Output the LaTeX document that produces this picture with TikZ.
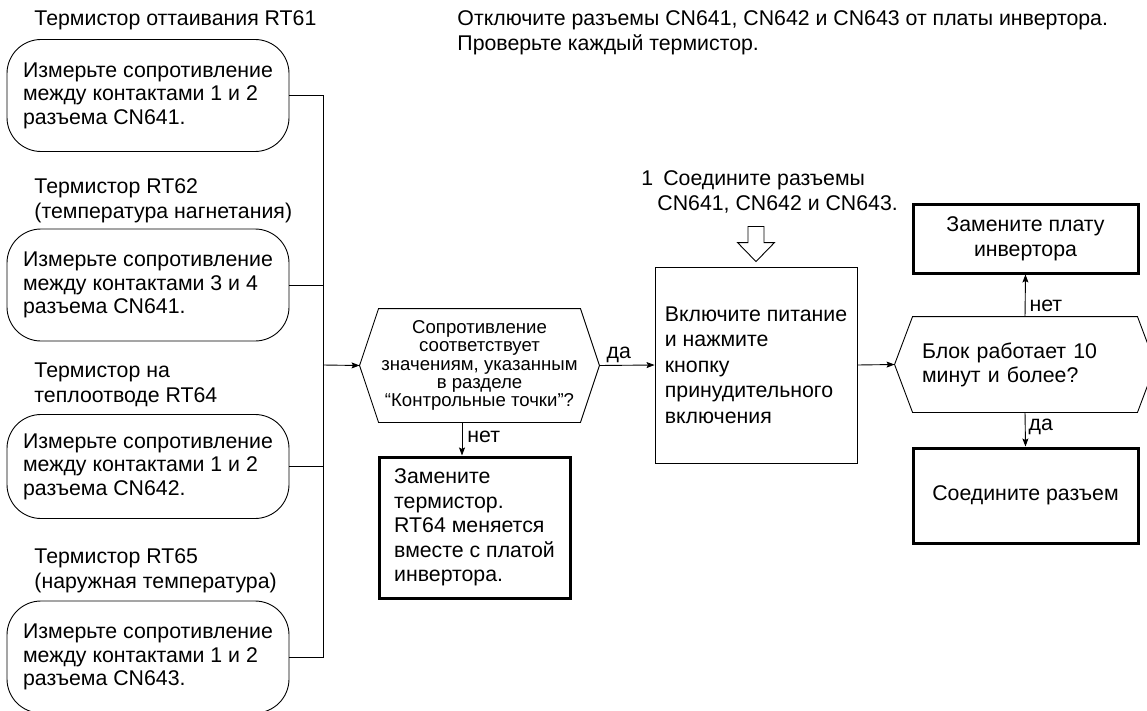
\documentclass[tikz,border=0pt]{standalone}
\usepackage{fontspec}
\setmainfont{Liberation Sans}
\usetikzlibrary{positioning,arrows.meta,calc}

\begin{document}
\begin{tikzpicture}[x=1pt, y=-1pt, line width=0.9pt, font=\fontsize{21.3}{24}\selectfont,
  rb/.style={draw, rounded corners=34pt, minimum width=282pt, minimum height=112pt, align=left, font=\fontsize{21.3}{23.5}\selectfont},
  tb/.style={draw, line width=3pt, align=center, font=\fontsize{21.3}{24.5}\selectfont},
  pb/.style={draw, align=left, font=\fontsize{21.3}{25.5}\selectfont},
  lb/.style={inner sep=0pt, anchor=west, align=left, font=\fontsize{21.3}{25}\selectfont},
  hx/.style={inner sep=0pt},
  arr/.style={-{Stealth[length=8pt, width=6pt, inset=1.5pt]}}]
\useasboundingbox (0,0) rectangle (1147,711);
% thermistor checks
\node[lb] (l1) at (34,20) {Термистор оттаивания RT61};
\node[rb] (r1) at (148,95.5) {Измерьте сопротивление\\между контактами 1 и 2\\разъема CN641.};
\node[lb] (l2) at (34,200.5) {Термистор RT62\\(температура нагнетания)};
\node[rb] (r2) at (148,285) {Измерьте сопротивление\\между контактами 3 и 4\\разъема CN641.};
\node[lb] (l3) at (34,384.5) {Термистор на\\теплоотводе RT64};
\node[rb, minimum height=104pt] (r3) at (148,466.5) {Измерьте сопротивление\\между контактами 1 и 2\\разъема CN642.};
\node[lb] (l4) at (34,570.5) {Термистор RT65\\(наружная температура)};
\node[rb] (r4) at (148,657) {Измерьте сопротивление\\между контактами 1 и 2\\разъема CN643.};
\node[lb, font=\fontsize{21.3}{24.5}\selectfont] (note) at (457,33) {Отключите разъемы CN641, CN642 и CN643 от платы инвертора.\\Проверьте каждый термистор.};
\coordinate (bus) at (323,365);
\foreach \r in {r1,r2,r3,r4} \draw (\r.east) -| (bus);
% first check
\node[hx, minimum width=201pt, minimum height=113pt, align=center, font=\fontsize{18.6}{18.3}\selectfont] (q1) at (479.5,365.5)
  {Сопротивление\\соответствует\\значениям, указанным\\в разделе\\“Контрольные точки”?};
\draw (q1.north west) -- (q1.north east) -- ([xshift=19pt]q1.east) coordinate (q1e) -- (q1.south east)
  -- (q1.south west) -- ([xshift=-19pt]q1.west) coordinate (q1w) -- cycle;
\draw[arr] (bus) -- (q1w);
\node[tb, align=left, minimum width=191pt, minimum height=141pt] (t1) at (474.5,527.5)
  {Замените\\термистор.\\RT64 меняется\\вместе с платой\\инвертора.};
\draw[arr] ([xshift=-17.5pt]q1.south) -- node[right, pos=0.44, inner sep=5pt]{нет} ([xshift=-17.5pt]q1.south |- t1.north);
% forced run
\node[pb, minimum width=202pt, minimum height=196pt] (b1) at (756,365)
  {Включите питание\\и нажмите\\кнопку\\принудительного\\включения};
\draw[arr] (q1e) -- node[above, pos=0.35, inner sep=2pt]{да} (b1.west);
\node[lb] (step1) at (641,192) {1\hspace{10pt}Соедините разъемы\\\hspace*{16pt}CN641, CN642 и CN643.};
\draw ($(b1.north)+(0,-5)$) coordinate (tip) -- ++(-18.5,-19) -- ++(10.5,0) -- ++(0,-16) -- ++(16,0)
  -- ++(0,16) -- ++(10.5,0) -- cycle;
% second check
\node[hx, minimum width=224pt, minimum height=95pt, text width=206pt, inner xsep=9pt, align=left] (q2) at (1025,364.5)
  {Блок работает 10\\минут и более?};
\draw (q2.north west) -- (q2.north east) -- ([xshift=18pt]q2.east) coordinate (q2e) -- (q2.south east)
  -- (q2.south west) -- ([xshift=-18pt]q2.west) coordinate (q2w) -- cycle;
\draw[arr] (b1.east) -- (q2w);
\node[tb, minimum width=225pt, minimum height=68pt] (r5) at (1025.5,239) {Замените плату\\инвертора};
\node[tb, minimum width=225pt, minimum height=95pt] (r6) at (1025.5,495.5) {Соедините разъем};
\draw[arr] (q2.north) -- node[right, pos=0.25, inner sep=4pt]{нет} (r5.south);
\draw[arr] (q2.south) -- node[right, pos=0.42, inner sep=3pt]{да} (r6.north);
\end{tikzpicture}
\end{document}
